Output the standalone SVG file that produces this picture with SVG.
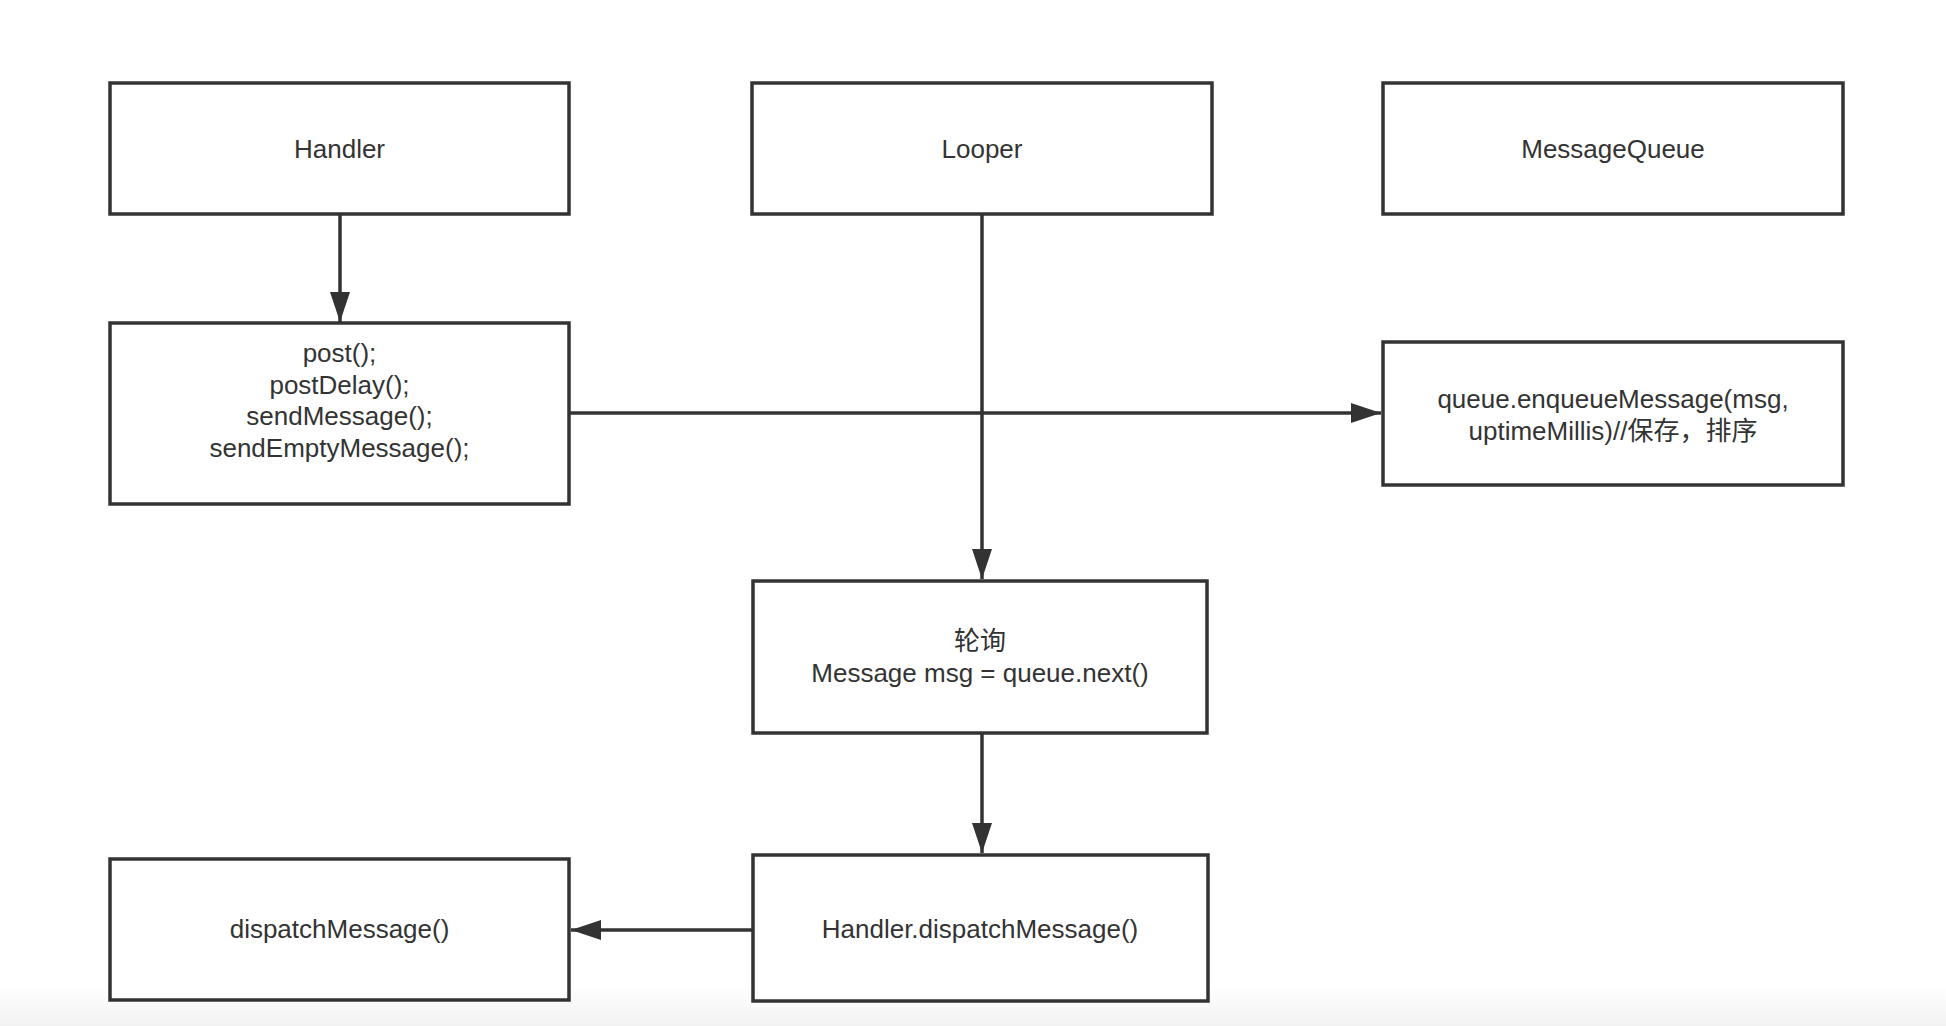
<svg xmlns="http://www.w3.org/2000/svg" width="1946" height="1026" viewBox="0 0 1946 1026">
  <defs>
    <linearGradient id="bottomFade" x1="0" y1="0" x2="0" y2="1">
      <stop offset="0" stop-color="#ffffff"/>
      <stop offset="1" stop-color="#f2f2f2"/>
    </linearGradient>
    <marker id="arrow" markerUnits="userSpaceOnUse" markerWidth="32" markerHeight="22" refX="30" refY="11" orient="auto">
      <path d="M0,1 L30,11 L0,21 z" fill="#333333"/>
    </marker>
  </defs>
  <style>
    .box { fill: #ffffff; stroke: #333333; stroke-width: 3.5; }
    .lbl { font-family: "Liberation Sans", "Noto Sans CJK SC", sans-serif; font-size: 26px; fill: #333333; text-anchor: middle; }
    .conn { stroke: #333333; stroke-width: 3.5; fill: none; }
  </style>
  <rect x="0" y="0" width="1946" height="1026" fill="#ffffff"/>
  <rect x="0" y="985" width="1946" height="41" fill="url(#bottomFade)"/>

  <g id="connectors">
    <line class="conn" x1="340" y1="214" x2="340" y2="322" marker-end="url(#arrow)"/>
    <line class="conn" x1="982" y1="214" x2="982" y2="579" marker-end="url(#arrow)"/>
    <line class="conn" x1="569" y1="413" x2="1381" y2="413" marker-end="url(#arrow)"/>
    <line class="conn" x1="982" y1="733" x2="982" y2="853" marker-end="url(#arrow)"/>
    <line class="conn" x1="753" y1="930" x2="571" y2="930" marker-end="url(#arrow)"/>
  </g>

  <g id="node-handler">
    <rect class="box" x="110" y="83" width="459" height="131"/>
    <text class="lbl" x="339.5" y="158">Handler</text>
  </g>
  <g id="node-looper">
    <rect class="box" x="752" y="83" width="460" height="131"/>
    <text class="lbl" x="982" y="158">Looper</text>
  </g>
  <g id="node-messagequeue">
    <rect class="box" x="1383" y="83" width="460" height="131"/>
    <text class="lbl" x="1613" y="158">MessageQueue</text>
  </g>
  <g id="node-post">
    <rect class="box" x="110" y="323" width="459" height="181"/>
    <text class="lbl" x="339.5" y="362">post();</text>
    <text class="lbl" x="339.5" y="393.5">postDelay();</text>
    <text class="lbl" x="339.5" y="425">sendMessage();</text>
    <text class="lbl" x="339.5" y="456.5">sendEmptyMessage();</text>
  </g>
  <g id="node-enqueue">
    <rect class="box" x="1383" y="342" width="460" height="143"/>
    <text class="lbl" x="1613" y="408">queue.enqueueMessage(msg,</text>
    <text class="lbl" x="1613" y="440">uptimeMillis)//保存，排序</text>
  </g>
  <g id="node-poll">
    <rect class="box" x="753" y="581" width="454" height="152"/>
    <text class="lbl" x="980" y="650">轮询</text>
    <text class="lbl" x="980" y="682">Message msg = queue.next()</text>
  </g>
  <g id="node-handler-dispatch">
    <rect class="box" x="753" y="855" width="455" height="146"/>
    <text class="lbl" x="980" y="938">Handler.dispatchMessage()</text>
  </g>
  <g id="node-dispatch">
    <rect class="box" x="110" y="859" width="459" height="141"/>
    <text class="lbl" x="339.5" y="938">dispatchMessage()</text>
  </g>
</svg>
